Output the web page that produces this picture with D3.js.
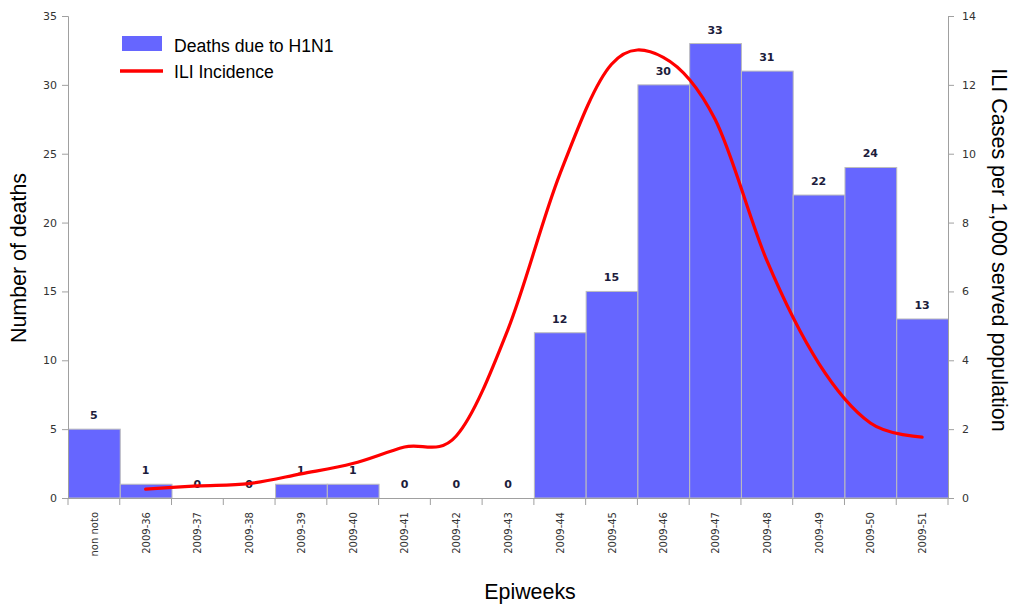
<!DOCTYPE html>
<html><head><meta charset="utf-8">
<script src="https://cdn.jsdelivr.net/npm/d3@7"></script>
<style>body{margin:0;background:#fff}svg{display:block}</style>
</head><body><svg id="c" width="1013" height="605"></svg>
<script>
const categories = ["non noto","2009-36","2009-37","2009-38","2009-39","2009-40","2009-41","2009-42","2009-43","2009-44","2009-45","2009-46","2009-47","2009-48","2009-49","2009-50","2009-51"];
const deaths = [5,1,0,0,1,1,0,0,0,12,15,30,33,31,22,24,13];
const iliIncidence = [null,0.26,0.35,0.42,0.7,1.0,1.48,1.8,4.9,9.4,12.6,12.8,11.0,6.9,3.92,2.18,1.77];
const leftTicks = [0,5,10,15,20,25,30,35];
const rightTicks = [0,2,4,6,8,10,12,14];

const svg = d3.select("#c");
const m = {l:68, r:948, t:16, b:498};
const x = d3.scaleBand().domain(categories).range([m.l, m.r]).padding(0);
const yL = d3.scaleLinear().domain([0,35]).range([m.b, m.t]);
const yR = d3.scaleLinear().domain([0,14]).range([m.b, m.t]);
const axisColor = "#a0a0a0", tickText = "#333";

// bars
svg.append("g").selectAll("rect").data(deaths).join("rect")
  .attr("x",(d,i)=>x(categories[i])+0.5)
  .attr("y",d=>yL(d))
  .attr("width",x.bandwidth())
  .attr("height",d=>m.b-yL(d))
  .attr("fill","#6666ff").attr("stroke","#bdbdbd").attr("stroke-width",1);

// bar labels
svg.append("g").selectAll("text").data(deaths).join("text")
  .attr("x",(d,i)=>x(categories[i])+x.bandwidth()/2)
  .attr("y",d=>yL(d)-10)
  .attr("text-anchor","middle")
  .attr("font-family","DejaVu Sans, Verdana, sans-serif")
  .attr("font-size",11).attr("font-weight","bold").attr("fill","#1c1c3c")
  .text(d=>d);

// left axis
const gl = svg.append("g").attr("transform",`translate(${m.l},0)`)
  .call(d3.axisLeft(yL).tickValues(leftTicks).tickSize(6).tickPadding(5));
// right axis
const gr = svg.append("g").attr("transform",`translate(${m.r},0)`)
  .call(d3.axisRight(yR).tickValues(rightTicks).tickSize(6).tickPadding(8));
// bottom axis (ticks at band boundaries)
const gb = svg.append("g").attr("transform",`translate(0,${m.b})`);
gb.append("line").attr("x1",m.l-6).attr("x2",m.r+6).attr("y1",0.5).attr("y2",0.5).attr("stroke",axisColor);
gb.selectAll("line.t").data(categories.concat(["__end"])).join("line").attr("class","t")
  .attr("x1",(d,i)=>m.l+i*x.step()).attr("x2",(d,i)=>m.l+i*x.step())
  .attr("y1",0).attr("y2",7).attr("stroke",axisColor);
gb.selectAll("text").data(categories).join("text")
  .attr("transform",d=>`translate(${x(d)+x.bandwidth()/2+4},14) rotate(-90)`)
  .attr("text-anchor","end")
  .attr("font-family","DejaVu Sans, Verdana, sans-serif").attr("font-size",10).attr("fill",tickText)
  .text(d=>d);

[gl,gr].forEach(g=>{
  g.select(".domain").attr("stroke",axisColor);
  g.selectAll(".tick line").attr("stroke",axisColor);
  g.selectAll(".tick text").attr("font-family","DejaVu Sans, Verdana, sans-serif").attr("font-size",11).attr("fill",tickText);
});

// ILI line
const pts = iliIncidence.map((d,i)=>({d,i})).filter(p=>p.d!=null);
svg.append("path")
  .datum(pts)
  .attr("d", d3.line().x(p=>x(categories[p.i])+x.bandwidth()/2).y(p=>yR(p.d)).curve(d3.curveCatmullRom.alpha(0)))
  .attr("fill","none").attr("stroke","#ff0000").attr("stroke-width",3.2).attr("stroke-linecap","round");

// axis titles
const tf = "Liberation Sans, Arial, sans-serif";
svg.append("text").attr("transform","translate(26,258) rotate(-90)").attr("text-anchor","middle")
  .attr("font-family",tf).attr("font-size",21.4).attr("fill","#000").text("Number of deaths");
svg.append("text").attr("transform","translate(992,250) rotate(90)").attr("text-anchor","middle")
  .attr("font-family",tf).attr("font-size",21.5).attr("fill","#000").text("ILI Cases per 1,000 served population");
svg.append("text").attr("x",530).attr("y",599).attr("text-anchor","middle")
  .attr("font-family",tf).attr("font-size",21.4).attr("fill","#000").text("Epiweeks");

// legend
const lg = svg.append("g");
lg.append("rect").attr("x",122).attr("y",36).attr("width",40).attr("height",15).attr("fill","#6666ff");
lg.append("text").attr("x",174).attr("y",52).attr("font-family",tf).attr("font-size",17.6).text("Deaths due to H1N1");
lg.append("line").attr("x1",120).attr("x2",163).attr("y1",71).attr("y2",71).attr("stroke","#ff0000").attr("stroke-width",3.5);
lg.append("text").attr("x",174).attr("y",78).attr("font-family",tf).attr("font-size",17.6).text("ILI Incidence");
</script></body></html>
